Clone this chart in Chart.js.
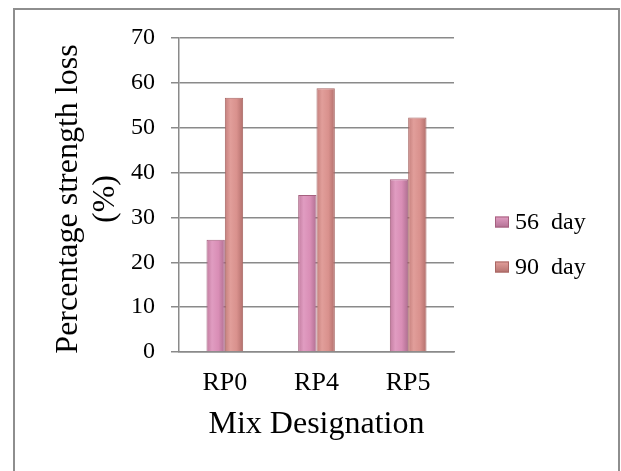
<!DOCTYPE html>
<html>
<head>
<meta charset="utf-8">
<script src="https://cdn.jsdelivr.net/npm/chart.js@4"></script>
<style>
  html, body { margin: 0; padding: 0; background: #fff; }
  #wrap { position: relative; width: 621px; height: 471px; overflow: hidden; }
  #frame { position: absolute; left: 13px; top: 8px; width: 603px; height: 500px; border: 2px solid #8e8e8e; }
  #c { position: absolute; left: 0; top: 0; }
</style>
</head>
<body>
<div id="wrap">
  <div id="frame"></div>
  <canvas id="c" width="621" height="471"></canvas>
</div>
<script>
const categories = ["RP0", "RP4", "RP5"];
const seriesNames = ["56  day", "90  day"];
const day56 = [25, 35, 38.5];
const day90 = [56.7, 58.8, 52.3];
const yTicks = [0, 10, 20, 30, 40, 50, 60, 70];
const yTitle = ["Percentage strength loss ", "(%) "];
const xTitle = "Mix Designation";

const fills = ["#d98eb6", "#d9918d"];
const edges = ["#a5607f", "#a86663"];
const shades = [
  ["#c27c9f", "#e09cc1", "#d98eb6", "#b06f91"],
  ["#c47f7c", "#e19e9a", "#d9918d", "#b26f6c"]
];
const serif = "'Liberation Serif', 'Times New Roman', serif";

function barFill(context) {
  const i = context.datasetIndex;
  if (context.type !== 'data') return fills[i];
  const meta = context.chart.getDatasetMeta(i);
  const el = meta.data[context.dataIndex];
  if (!el || !el.width || !isFinite(el.x)) return fills[i];
  const x0 = el.x - el.width / 2, x1 = el.x + el.width / 2;
  const g = context.chart.ctx.createLinearGradient(x0, 0, x1, 0);
  const s = shades[i];
  g.addColorStop(0, s[0]);
  g.addColorStop(0.3, s[1]);
  g.addColorStop(0.65, s[2]);
  g.addColorStop(1, s[3]);
  return g;
}

const legendPlugin = {
  id: 'sideLegend',
  afterDraw(chart) {
    const ctx = chart.ctx;
    const ca = chart.chartArea;
    ctx.save();
    ctx.font = "24px " + serif;
    ctx.textBaseline = "middle";
    chart.data.datasets.forEach((ds, i) => {
      const y = ca.top + 184 + i * 45;
      const x = ca.right + 41;
      const g = ctx.createLinearGradient(x, y - 5, x, y + 6);
      g.addColorStop(0, shades[i][1]);
      g.addColorStop(1, shades[i][3]);
      ctx.fillStyle = g;
      ctx.fillRect(x, y - 5.5, 14, 11);
      ctx.strokeStyle = edges[i];
      ctx.lineWidth = 1;
      ctx.strokeRect(x + 0.5, y - 5, 13, 10);
      ctx.fillStyle = "#000";
      ctx.fillText(ds.label, x + 20, y + 1);
    });
    ctx.restore();
  }
};

const chart = new Chart(document.getElementById('c'), {
  type: 'bar',
  data: {
    labels: categories,
    datasets: [
      { label: seriesNames[0], data: day56, backgroundColor: barFill, borderColor: edges[0], borderWidth: 1 },
      { label: seriesNames[1], data: day90, backgroundColor: barFill, borderColor: edges[1], borderWidth: 1 }
    ]
  },
  options: {
    responsive: false,
    animation: false,
    devicePixelRatio: 1,
    categoryPercentage: 0.4,
    barPercentage: 1.0,
    layout: { padding: { left: 0, right: 167, top: 38, bottom: 0 } },
    plugins: {
      legend: { display: false },
      tooltip: { enabled: false }
    },
    scales: {
      x: {
        grid: { display: false, drawTicks: false },
        border: { display: true, color: '#8a8a8a', width: 1.5 },
        ticks: { font: { family: serif, size: 26 }, color: '#000', padding: 16 },
        title: { display: true, text: xTitle, font: { family: serif, size: 32, lineHeight: 1.2 }, color: '#000', padding: { top: 0, bottom: 27 } },
        afterFit(scale) { scale.height = 119; }
      },
      y: {
        min: 0, max: 70,
        afterBuildTicks(scale) { scale.ticks = yTicks.map(v => ({ value: v })); },
        grid: { color: '#8a8a8a', lineWidth: 1.5, tickLength: 8, drawTicks: true },
        border: { display: true, color: '#8a8a8a', width: 1.5 },
        ticks: { font: { family: serif, size: 24 }, color: '#000', padding: 16 },
        title: { display: true, text: yTitle, font: { family: serif, size: 32, lineHeight: 1.15 }, color: '#000', padding: { top: 50, bottom: 0 } },
        afterFit(scale) { scale.width = 179; }
      }
    }
  },
  plugins: [legendPlugin]
});
chart.update();
</script>
</body>
</html>
